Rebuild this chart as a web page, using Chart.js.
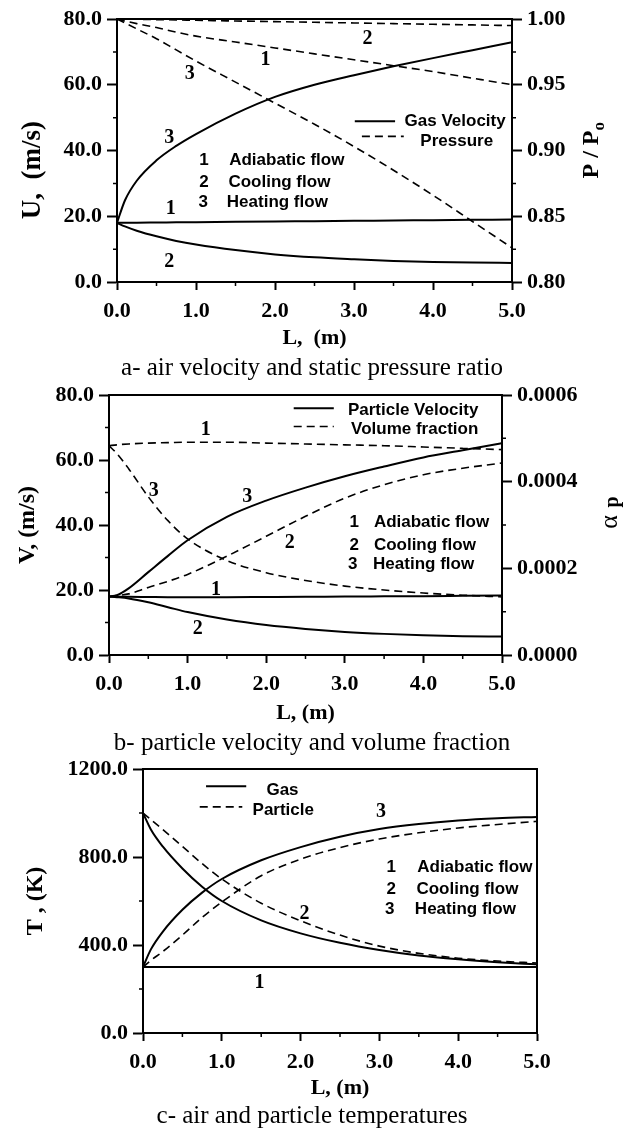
<!DOCTYPE html>
<html>
<head>
<meta charset="utf-8">
<script src="https://cdn.jsdelivr.net/npm/chart.js@4.4.0/dist/chart.umd.min.js"></script>
<style>
  html, body { margin: 0; padding: 0; background: #fff; }
  .panel { position: absolute; left: 0; width: 623px; }
  .caption {
    position: absolute; left: 0; width: 624px; text-align: center;
    font: 25px "Liberation Serif", "Times New Roman", serif;
    line-height: 30px; height: 30px; color: #000;
  }
</style>
</head>
<body>
<div class="panel" style="top:0;height:375px"><canvas id="chartA" width="623" height="375"></canvas></div>
<div class="panel" style="top:375px;height:375px"><canvas id="chartB" width="623" height="375"></canvas></div>
<div class="panel" style="top:750px;height:379px"><canvas id="chartC" width="623" height="379"></canvas></div>
<div class="caption" style="top:352px">a- air velocity and static pressure ratio</div>
<div class="caption" style="top:727px">b- particle velocity and volume fraction</div>
<div class="caption" style="top:1100px">c- air and particle temperatures</div>
<script>
// distance along the duct, m
const L = [0, 0.1, 0.25, 0.5, 0.75, 1, 1.5, 2, 2.5, 3, 3.5, 4, 4.5, 5];
const xTicks = [0, 1, 2, 3, 4, 5];
const xLabels = ["0.0", "1.0", "2.0", "3.0", "4.0", "5.0"];
const xMinor = [0.5, 1.5, 2.5, 3.5, 4.5];

// a - gas velocity (m/s) and pressure ratio
const gasU1 = [18, 18.0, 18.05, 18.1, 18.15, 18.2, 18.3, 18.4, 18.5, 18.6, 18.7, 18.8, 18.9, 19.0];
const gasU2 = [18, 16.9, 15.6, 13.9, 12.5, 11.4, 9.7, 8.4, 7.5, 6.9, 6.4, 6.1, 5.9, 5.8];
const gasU3 = [18, 24.8, 30.8, 37.0, 41.4, 45.0, 51.2, 56.3, 60.0, 62.9, 65.6, 68.1, 70.5, 72.9];
const pres1 = [1.0, 0.9985, 0.9965, 0.9935, 0.990, 0.987, 0.9825, 0.978, 0.9735, 0.969, 0.9645, 0.960, 0.955, 0.950];
const pres2 = [1.0, 0.9999, 0.9998, 0.9995, 0.9993, 0.999, 0.9985, 0.998, 0.9975, 0.997, 0.9965, 0.996, 0.9955, 0.995];
const pres3 = [1.0, 0.997, 0.9925, 0.985, 0.9765, 0.968, 0.952, 0.936, 0.92, 0.903, 0.885, 0.866, 0.846, 0.826];
const uTicks = [0, 20, 40, 60, 80];
const uLabels = ["0.0", "20.0", "40.0", "60.0", "80.0"];
const uMinor = [10, 30, 50, 70];
const pTicks = [0.80, 0.85, 0.90, 0.95, 1.00];
const pLabels = ["0.80", "0.85", "0.90", "0.95", "1.00"];
const pMinor = [0.825, 0.875, 0.925, 0.975];

// b - particle velocity (m/s) and volume fraction
const partV1 = [18, 17.95, 17.9, 17.85, 17.8, 17.8, 17.8, 17.85, 17.9, 18.0, 18.05, 18.1, 18.2, 18.3];
const partV2 = [18, 17.8, 17.4, 16.2, 14.7, 13.2, 10.9, 9.2, 8.0, 7.1, 6.5, 6.1, 5.8, 5.7];
const partV3 = [18, 18.4, 20.5, 25.5, 30.5, 35.3, 42.5, 47.5, 51.5, 55, 58, 60.8, 63, 65.2];
const volF1 = [0.000483, 0.000485, 0.000487, 0.000489, 0.00049, 0.000491, 0.000491, 0.000489, 0.000487, 0.000485, 0.000483, 0.00048, 0.000477, 0.000474];
const volF2 = [0.000135, 0.000137, 0.000141, 0.000156, 0.00017, 0.000186, 0.000228, 0.000274, 0.00032, 0.000362, 0.000393, 0.000416, 0.000431, 0.000443];
const volF3 = [0.000483, 0.000465, 0.00043, 0.000365, 0.00031, 0.000268, 0.000218, 0.00019, 0.000172, 0.000159, 0.00015, 0.000143, 0.000138, 0.000134];
const aTicks = [0, 0.0002, 0.0004, 0.0006];
const aLabels = ["0.0000", "0.0002", "0.0004", "0.0006"];
const aMinor = [0.0001, 0.0003, 0.0005];

// c - gas and particle temperature (K)
const tGas1 = [300, 300, 300, 300, 300, 300, 300, 300, 300, 300, 300, 300, 300, 300];
const tGas2 = [1000, 925, 848, 748, 665, 600, 512, 453, 410, 377, 352, 335, 322, 312];
const tGas3 = [300, 380, 460, 560, 638, 700, 785, 845, 892, 927, 950, 966, 976, 982];
const tPart1 = [300, 300, 300, 300, 300, 300, 300, 300, 300, 300, 300, 300, 300, 300];
const tPart2 = [1000, 970, 925, 848, 770, 700, 590, 510, 445, 395, 362, 340, 327, 318];
const tPart3 = [300, 330, 370, 445, 525, 595, 715, 790, 843, 882, 910, 932, 948, 962];
const tTicks = [0, 400, 800, 1200];
const tLabels = ["0.0", "400.0", "800.0", "1200.0"];
const tMinor = [200, 600, 1000];

const serif = '"Liberation Serif", "Times New Roman", serif';
const sans = '"Liberation Sans", Arial, sans-serif';
const numFont = "bold 20px " + serif;
const keyFont = "bold 17px " + sans;

function line(ys, axis, dashed) {
  return {
    data: L.map((x, i) => ({ x: x, y: ys[i] })),
    yAxisID: axis,
    borderColor: "#000",
    borderWidth: dashed ? 1.6 : 2,
    borderDash: dashed ? [8, 5] : [],
    pointRadius: 0,
    fill: false,
    cubicInterpolationMode: "monotone"
  };
}

const tickFont = { family: serif, size: 22, weight: "bold" };

function axisX(height) {
  return {
    type: "linear", min: 0, max: 5,
    afterBuildTicks: s => { s.ticks = xTicks.map(v => ({ value: v })); },
    ticks: { callback: (v, i) => xLabels[i], font: tickFont, color: "#000", padding: 8, maxRotation: 0, autoSkip: false },
    grid: { drawOnChartArea: false, tickLength: 8, tickWidth: 2, tickColor: "#000" },
    border: { color: "#000", width: 2 },
    afterFit: s => { s.height = height; }
  };
}

function axisY(pos, min, max, ticks, labels, width) {
  return {
    type: "linear", position: pos, min: min, max: max,
    afterBuildTicks: s => { s.ticks = ticks.map(v => ({ value: v })); },
    ticks: { callback: (v, i) => labels[i], font: tickFont, color: "#000", padding: 5, autoSkip: false },
    grid: { drawOnChartArea: false, tickLength: 10, tickWidth: 2, tickColor: "#000" },
    border: { color: "#000", width: 2 },
    afterFit: s => { s.width = width; }
  };
}

// frame, minor ticks, keys, curve numbers and axis titles
function deco(cfg) {
  return {
    id: "deco",
    afterDraw(chart) {
      const ctx = chart.ctx, a = chart.chartArea;
      const xs = chart.scales.x, ys = chart.scales.y, y2 = chart.scales.y1;
      const px = v => xs.getPixelForValue(v), py = v => ys.getPixelForValue(v);
      ctx.save();
      ctx.strokeStyle = "#000";
      ctx.fillStyle = "#000";
      ctx.lineWidth = 2;
      ctx.strokeRect(a.left, a.top, a.right - a.left, a.bottom - a.top);

      ctx.lineWidth = 1.5;
      ctx.beginPath();
      xMinor.forEach(v => { ctx.moveTo(px(v), a.bottom); ctx.lineTo(px(v), a.bottom + 4); });
      cfg.yMinor.forEach(v => { ctx.moveTo(a.left - 4, py(v)); ctx.lineTo(a.left, py(v)); });
      if (y2) cfg.y2Minor.forEach(v => {
        const p = y2.getPixelForValue(v);
        ctx.moveTo(a.right, p); ctx.lineTo(a.right + 4, p);
      });
      ctx.stroke();

      cfg.keys.forEach(k => {
        ctx.lineWidth = k.dash ? 1.6 : 2;
        ctx.setLineDash(k.dash ? [8, 5] : []);
        ctx.beginPath();
        ctx.moveTo(px(k.x1), py(k.y));
        ctx.lineTo(px(k.x2), py(k.y));
        ctx.stroke();
      });
      ctx.setLineDash([]);

      ctx.textBaseline = "middle";
      cfg.texts.forEach(t => {
        ctx.font = t.font;
        ctx.textAlign = t.align || "center";
        ctx.fillText(t.t, px(t.x), py(t.y));
      });

      ctx.textAlign = "center";
      ctx.font = "bold 22px " + serif;
      ctx.fillText(cfg.xTitle, (a.left + a.right) / 2, 338);

      ctx.save();
      ctx.translate(cfg.yTitleX, py(cfg.yTitleAt));
      ctx.rotate(-Math.PI / 2);
      ctx.font = "bold " + cfg.yTitleSize + "px " + serif;
      ctx.fillText(cfg.yTitle, 0, 0);
      ctx.restore();

      if (cfg.rightTitle) cfg.rightTitle(ctx, (a.top + a.bottom) / 2);
      ctx.restore();
    }
  };
}

function make(id, datasets, scales, layoutPad, cfg) {
  return new Chart(document.getElementById(id), {
    type: "line",
    data: { datasets: datasets },
    options: {
      responsive: false,
      animation: false,
      devicePixelRatio: 1,
      layout: { padding: layoutPad },
      plugins: { legend: { display: false }, tooltip: { enabled: false } },
      scales: scales
    },
    plugins: [deco(cfg)]
  });
}

// chart a
make("chartA",
  [line(gasU1, "y"), line(gasU2, "y"), line(gasU3, "y"),
   line(pres1, "y1", true), line(pres2, "y1", true), line(pres3, "y1", true)],
  { x: axisX(93), y: axisY("left", 0, 80, uTicks, uLabels, 117), y1: axisY("right", 0.8, 1.0, pTicks, pLabels, 111) },
  { top: 19, left: 0, right: 0, bottom: 0 },
  {
    yMinor: uMinor, y2Minor: pMinor,
    keys: [{ x1: 3.01, x2: 3.52, y: 48.9 }, { x1: 3.10, x2: 3.63, y: 44.3, dash: true }],
    texts: [
      { t: "Gas Velocity", x: 3.64, y: 48.9, font: keyFont, align: "left" },
      { t: "Pressure", x: 3.84, y: 42.8, font: keyFont, align: "left" },
      { t: "1", x: 1.10, y: 36.9, font: keyFont }, { t: "Adiabatic flow", x: 1.42, y: 36.9, font: keyFont, align: "left" },
      { t: "2", x: 1.10, y: 30.3, font: keyFont }, { t: "Cooling flow", x: 1.41, y: 30.3, font: keyFont, align: "left" },
      { t: "3", x: 1.09, y: 24.2, font: keyFont }, { t: "Heating flow", x: 1.39, y: 24.2, font: keyFont, align: "left" },
      { t: "2", x: 3.17, y: 73.9, font: numFont }, { t: "1", x: 1.88, y: 67.6, font: numFont },
      { t: "3", x: 0.92, y: 63.4, font: numFont }, { t: "3", x: 0.66, y: 43.8, font: numFont },
      { t: "1", x: 0.68, y: 22.2, font: numFont }, { t: "2", x: 0.66, y: 6.1, font: numFont }
    ],
    xTitle: "L,  (m)",
    yTitle: "U,  (m/s)", yTitleX: 33, yTitleAt: 34, yTitleSize: 27,
    rightTitle: (ctx, midY) => {
      ctx.save();
      ctx.translate(592, midY);
      ctx.rotate(-Math.PI / 2);
      ctx.font = "bold 24px " + serif;
      ctx.textAlign = "center";
      ctx.fillText("P / P", -4, 0);
      const w = ctx.measureText("P / P").width;
      ctx.font = "bold 17px " + serif;
      ctx.textAlign = "left";
      ctx.fillText("o", -4 + w / 2, 8);
      ctx.restore();
    }
  });

// chart b
make("chartB",
  [line(partV1, "y"), line(partV2, "y"), line(partV3, "y"),
   line(volF1, "y1", true), line(volF2, "y1", true), line(volF3, "y1", true)],
  { x: axisX(95), y: axisY("left", 0, 80, uTicks, uLabels, 109), y1: axisY("right", 0, 0.0006, aTicks, aLabels, 121) },
  { top: 20, left: 0, right: 0, bottom: 0 },
  {
    yMinor: uMinor, y2Minor: aMinor,
    keys: [{ x1: 2.35, x2: 2.86, y: 75.9 }, { x1: 2.35, x2: 2.86, y: 70.3, dash: true }],
    texts: [
      { t: "Particle Velocity", x: 3.04, y: 75.4, font: keyFont, align: "left" },
      { t: "Volume fraction", x: 3.08, y: 69.3, font: keyFont, align: "left" },
      { t: "1", x: 3.12, y: 40.7, font: keyFont }, { t: "Adiabatic flow", x: 3.37, y: 40.7, font: keyFont, align: "left" },
      { t: "2", x: 3.12, y: 33.8, font: keyFont }, { t: "Cooling flow", x: 3.37, y: 33.8, font: keyFont, align: "left" },
      { t: "3", x: 3.10, y: 27.9, font: keyFont }, { t: "Heating flow", x: 3.36, y: 27.9, font: keyFont, align: "left" },
      { t: "1", x: 1.23, y: 69.3, font: numFont }, { t: "3", x: 0.57, y: 50.4, font: numFont },
      { t: "3", x: 1.76, y: 48.8, font: numFont }, { t: "2", x: 2.30, y: 34.5, font: numFont },
      { t: "1", x: 1.36, y: 20.1, font: numFont }, { t: "2", x: 1.13, y: 8.0, font: numFont }
    ],
    xTitle: "L, (m)",
    yTitle: "V, (m/s)", yTitleX: 28, yTitleAt: 40, yTitleSize: 24,
    rightTitle: (ctx, midY) => {
      ctx.save();
      ctx.translate(610, midY - 14);
      ctx.rotate(-Math.PI / 2);
      ctx.textAlign = "center";
      ctx.font = "26px " + serif;
      ctx.fillText("\u03b1", -11, 0);
      ctx.font = "bold 20px " + serif;
      ctx.fillText("p", 9, 3);
      ctx.restore();
    }
  });

// chart c
make("chartC",
  [line(tGas1, "y"), line(tGas2, "y"), line(tGas3, "y"),
   line(tPart1, "y", true), line(tPart2, "y", true), line(tPart3, "y", true)],
  { x: axisX(96), y: axisY("left", 0, 1200, tTicks, tLabels, 143) },
  { top: 19, left: 0, right: 86, bottom: 0 },
  {
    yMinor: tMinor, y2Minor: [],
    keys: [{ x1: 0.80, x2: 1.31, y: 1122 }, { x1: 0.72, x2: 1.26, y: 1028, dash: true }],
    texts: [
      { t: "Gas", x: 1.77, y: 1103, font: keyFont },
      { t: "Particle", x: 1.78, y: 1013, font: keyFont },
      { t: "1", x: 3.15, y: 754, font: keyFont }, { t: "Adiabatic flow", x: 3.48, y: 754, font: keyFont, align: "left" },
      { t: "2", x: 3.15, y: 655, font: keyFont }, { t: "Cooling flow", x: 3.47, y: 655, font: keyFont, align: "left" },
      { t: "3", x: 3.13, y: 563, font: keyFont }, { t: "Heating flow", x: 3.45, y: 563, font: keyFont, align: "left" },
      { t: "1", x: 1.48, y: 228, font: numFont }, { t: "2", x: 2.05, y: 540, font: numFont },
      { t: "3", x: 3.02, y: 1005, font: numFont }
    ],
    xTitle: "L, (m)",
    yTitle: "T , (K)", yTitleX: 36, yTitleAt: 600, yTitleSize: 24
  });
</script>
</body>
</html>
